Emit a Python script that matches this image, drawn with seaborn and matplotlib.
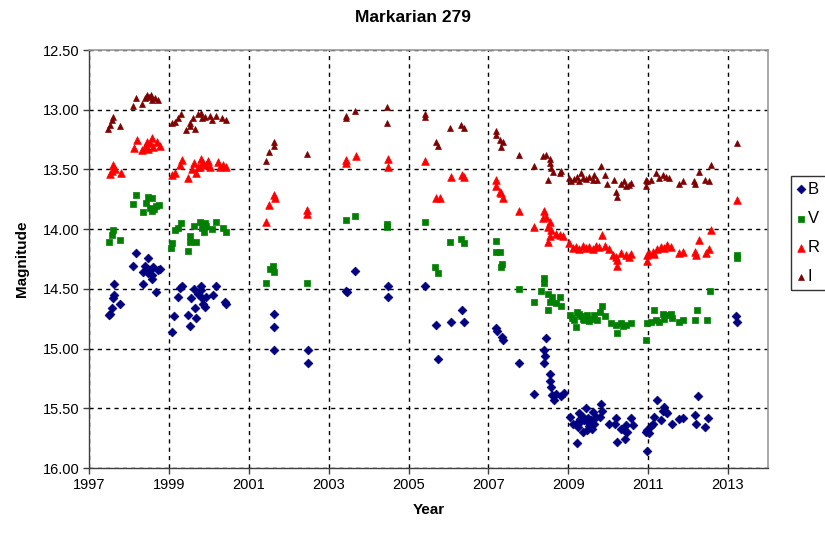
import matplotlib
matplotlib.use("Agg")
import matplotlib.pyplot as plt
import seaborn as sns
import pandas as pd
from matplotlib.ticker import FormatStrFormatter, MultipleLocator

# ---------------- data ----------------
b_year = [1997.50, 1997.53, 1997.57, 1997.61, 1997.63, 1997.63, 1997.78,
          1998.11, 1998.18, 1998.36, 1998.36, 1998.40, 1998.48, 1998.48, 1998.53, 1998.58, 1998.58, 1998.61, 1998.68, 1998.73, 1998.79,
          1999.07, 1999.13, 1999.22, 1999.28, 1999.32, 1999.48, 1999.53, 1999.55, 1999.63, 1999.65, 1999.69, 1999.73, 1999.80, 1999.80, 1999.82, 1999.86, 1999.90, 1999.94, 2000.11, 2000.19, 2000.40, 2000.44,
          2001.63, 2001.63, 2001.63, 2002.48, 2002.48, 2003.43, 2003.45, 2003.67, 2004.48, 2004.48, 2005.40, 2005.68, 2005.73, 2006.07, 2006.33, 2006.40,
          2007.19, 2007.21, 2007.33, 2007.36, 2007.76,
          2008.15, 2008.38, 2008.38, 2008.42, 2008.43, 2008.53, 2008.54, 2008.57, 2008.59, 2008.63, 2008.69, 2008.82, 2008.90,
          2009.04, 2009.11, 2009.19, 2009.21, 2009.28, 2009.32, 2009.36, 2009.40, 2009.44, 2009.44, 2009.48, 2009.53, 2009.57, 2009.57, 2009.61, 2009.65, 2009.69, 2009.79, 2009.82, 2009.85,
          2009.25, 2009.50, 2009.38, 2009.30, 2009.60,
          2010.01, 2010.18, 2010.19, 2010.23, 2010.32, 2010.40, 2010.43, 2010.44, 2010.48, 2010.57, 2010.61, 2010.94, 2010.96,
          2010.98, 2011.03, 2011.07, 2011.11, 2011.15, 2011.23, 2011.32, 2011.36, 2011.40, 2011.44, 2011.48, 2011.59, 2011.78, 2011.88, 2012.18, 2012.19, 2012.25, 2012.43, 2012.51, 2013.21, 2013.23]
b_mag = [14.72, 14.71, 14.66, 14.58, 14.46, 14.55, 14.63,
         14.31, 14.20, 14.36, 14.46, 14.31, 14.24, 14.37, 14.34, 14.38, 14.42, 14.32, 14.53, 14.34, 14.33,
         14.86, 14.73, 14.57, 14.49, 14.48, 14.72, 14.81, 14.58, 14.50, 14.66, 14.74, 14.54, 14.48, 14.51, 14.58, 14.63, 14.65, 14.57, 14.55, 14.48, 14.61, 14.63,
         14.71, 14.82, 15.01, 15.01, 15.12, 14.52, 14.53, 14.35, 14.48, 14.57, 14.48, 14.80, 15.09, 14.78, 14.68, 14.78,
         14.83, 14.85, 14.90, 14.93, 15.12,
         15.38, 15.01, 15.12, 15.06, 14.91, 15.27, 15.21, 15.32, 15.39, 15.43, 15.38, 15.40, 15.37,
         15.57, 15.63, 15.63, 15.79, 15.54, 15.61, 15.57, 15.60, 15.50, 15.60, 15.68, 15.65, 15.60, 15.62, 15.53, 15.63, 15.57, 15.57, 15.46, 15.52,
         15.66, 15.58, 15.70, 15.59, 15.67,
         15.63, 15.63, 15.58, 15.78, 15.67, 15.68, 15.76, 15.64, 15.70, 15.58, 15.64, 15.70, 15.86,
         15.68, 15.71, 15.65, 15.63, 15.57, 15.43, 15.60, 15.52, 15.49, 15.53, 15.54, 15.63, 15.59, 15.58, 15.56, 15.63, 15.40, 15.66, 15.58, 14.73, 14.78]

v_year = [1997.50, 1997.57, 1997.61, 1997.78,
          1998.11, 1998.18, 1998.36, 1998.42, 1998.47, 1998.53, 1998.57, 1998.58, 1998.62, 1998.67, 1998.75,
          1999.05, 1999.08, 1999.15, 1999.22, 1999.30, 1999.47, 1999.53, 1999.53, 1999.63, 1999.67, 1999.78, 1999.82, 1999.88, 1999.90, 1999.94, 2000.07, 2000.19, 2000.36, 2000.42,
          2001.44, 2001.53, 2001.61, 2001.63, 2002.46, 2003.43, 2003.65, 2004.47, 2004.47, 2005.40, 2005.67, 2005.73, 2006.05, 2006.32, 2006.40,
          2007.19, 2007.18, 2007.28, 2007.34, 2007.32, 2007.76,
          2008.13, 2008.32, 2008.40, 2008.40, 2008.48, 2008.48, 2008.53, 2008.60, 2008.68, 2008.78, 2008.82,
          2009.04, 2009.15, 2009.19, 2009.23, 2009.32, 2009.36, 2009.40, 2009.48, 2009.57, 2009.65, 2009.71, 2009.79, 2009.85, 2009.92, 2009.10, 2009.28, 2009.52,
          2010.07, 2010.19, 2010.22, 2010.32, 2010.38, 2010.44, 2010.57,
          2010.94, 2010.98, 2011.07, 2011.15, 2011.19, 2011.28, 2011.36, 2011.40, 2011.48, 2011.57, 2011.60, 2011.78, 2011.86, 2012.18, 2012.23, 2012.48, 2012.55, 2013.22, 2013.22]
v_mag = [14.11, 14.05, 14.01, 14.09,
         13.79, 13.71, 13.86, 13.78, 13.73, 13.82, 13.85, 13.74, 13.83, 13.81, 13.80,
         14.16, 14.12, 14.01, 13.99, 13.95, 14.18, 14.06, 14.11, 13.97, 14.11, 13.94, 13.99, 14.02, 13.95, 13.97, 14.00, 13.94, 13.99, 14.02,
         14.45, 14.33, 14.31, 14.36, 14.45, 13.92, 13.89, 13.96, 13.98, 13.94, 14.32, 14.37, 14.11, 14.08, 14.12,
         14.10, 14.19, 14.19, 14.29, 14.32, 14.50,
         14.61, 14.52, 14.41, 14.45, 14.54, 14.68, 14.61, 14.57, 14.62, 14.57, 14.64,
         14.72, 14.76, 14.82, 14.69, 14.73, 14.75, 14.76, 14.72, 14.75, 14.72, 14.76, 14.69, 14.64, 14.73, 14.74, 14.71, 14.77,
         14.79, 14.80, 14.87, 14.79, 14.81, 14.80, 14.79,
         14.93, 14.79, 14.78, 14.68, 14.76, 14.78, 14.71, 14.75, 14.72, 14.71, 14.74, 14.78, 14.76, 14.76, 14.68, 14.76, 14.52, 14.22, 14.24]

r_year = [1997.53, 1997.57, 1997.61, 1997.65, 1997.80,
          1998.13, 1998.19, 1998.32, 1998.40, 1998.44, 1998.48, 1998.53, 1998.57, 1998.61, 1998.69, 1998.78,
          1999.07, 1999.15, 1999.28, 1999.33, 1999.48, 1999.57, 1999.63, 1999.69, 1999.73, 1999.78, 1999.80, 1999.86, 1999.94, 1999.98, 2000.03, 2000.22, 2000.28, 2000.36, 2000.44,
          2001.44, 2001.51, 2001.63, 2001.65, 2002.46, 2002.46, 2003.43, 2003.43, 2003.68, 2004.48, 2004.48, 2005.40, 2005.68, 2005.78, 2006.07, 2006.33, 2006.40,
          2007.19, 2007.19, 2007.28, 2007.32, 2007.36, 2007.76,
          2008.15, 2008.36, 2008.40, 2008.44, 2008.48, 2008.48, 2008.53, 2008.53, 2008.57, 2008.69, 2008.78, 2008.86,
          2009.03, 2009.11, 2009.19, 2009.28, 2009.36, 2009.44, 2009.53, 2009.61, 2009.69, 2009.78, 2009.85, 2009.92,
          2010.03, 2010.11, 2010.19, 2010.23, 2010.23, 2010.32, 2010.44, 2010.53, 2010.57,
          2010.96, 2010.98, 2011.03, 2011.11, 2011.15, 2011.23, 2011.32, 2011.40, 2011.48, 2011.57, 2011.78, 2011.86, 2012.18, 2012.19, 2012.26, 2012.44, 2012.53, 2012.57, 2013.23]
r_mag = [13.54, 13.51, 13.46, 13.50, 13.53,
         13.32, 13.25, 13.34, 13.31, 13.27, 13.33, 13.28, 13.24, 13.31, 13.27, 13.30,
         13.55, 13.53, 13.46, 13.42, 13.57, 13.50, 13.45, 13.53, 13.48, 13.48, 13.41, 13.45, 13.46, 13.43, 13.48, 13.44, 13.48, 13.46, 13.48,
         13.94, 13.80, 13.71, 13.74, 13.84, 13.87, 13.42, 13.45, 13.39, 13.41, 13.48, 13.43, 13.74, 13.74, 13.56, 13.55, 13.56,
         13.59, 13.64, 13.69, 13.70, 13.74, 13.85,
         13.98, 13.91, 13.85, 13.90, 13.98, 14.11, 13.94, 14.06, 14.01, 14.04, 14.05, 14.06,
         14.12, 14.16, 14.15, 14.17, 14.14, 14.16, 14.15, 14.17, 14.14, 14.15, 14.05, 14.14,
         14.17, 14.22, 14.23, 14.26, 14.31, 14.20, 14.22, 14.23, 14.21,
         14.27, 14.22, 14.20, 14.19, 14.21, 14.17, 14.15, 14.16, 14.13, 14.15, 14.20, 14.19, 14.19, 14.22, 14.09, 14.20, 14.17, 14.01, 13.76]

i_year = [1997.48, 1997.53, 1997.58, 1997.61, 1997.78,
          1998.11, 1998.17, 1998.33, 1998.40, 1998.44, 1998.50, 1998.55, 1998.57, 1998.65, 1998.73,
          1999.07, 1999.15, 1999.23, 1999.30, 1999.44, 1999.53, 1999.53, 1999.61, 1999.65, 1999.73, 1999.80, 1999.83, 1999.90, 2000.03, 2000.08, 2000.19, 2000.32, 2000.42,
          2001.44, 2001.50, 2001.63, 2001.63, 2002.46, 2003.43, 2003.43, 2003.65, 2004.47, 2004.47, 2005.40, 2005.40, 2005.68, 2005.73, 2006.05, 2006.32, 2006.40,
          2007.18, 2007.19, 2007.28, 2007.32, 2007.36, 2007.76,
          2008.15, 2008.36, 2008.44, 2008.48, 2008.53, 2008.53, 2008.57, 2008.61, 2008.78, 2008.82,
          2009.03, 2009.07, 2009.15, 2009.23, 2009.28, 2009.32, 2009.36, 2009.44, 2009.53, 2009.61, 2009.65, 2009.71, 2009.82, 2009.92, 2009.96,
          2010.15, 2010.19, 2010.21, 2010.32, 2010.40, 2010.44, 2010.53, 2010.57, 2010.94,
          2010.94, 2010.98, 2011.07, 2011.19, 2011.28, 2011.36, 2011.44, 2011.53, 2011.78, 2011.86, 2012.15, 2012.18, 2012.26, 2012.43, 2012.53, 2012.57, 2013.22]
i_mag = [13.16, 13.13, 13.09, 13.06, 13.14,
         12.97, 12.90, 12.95, 12.90, 12.88, 12.89, 12.88, 12.92, 12.90, 12.92,
         13.11, 13.10, 13.07, 13.04, 13.17, 13.14, 13.11, 13.07, 13.16, 13.04, 13.03, 13.07, 13.06, 13.05, 13.09, 13.05, 13.07, 13.09,
         13.43, 13.35, 13.27, 13.30, 13.37, 13.05, 13.07, 13.01, 12.98, 13.11, 13.04, 13.06, 13.27, 13.30, 13.15, 13.13, 13.15,
         13.18, 13.21, 13.25, 13.31, 13.27, 13.38,
         13.47, 13.39, 13.38, 13.59, 13.41, 13.45, 13.49, 13.52, 13.53, 13.51,
         13.57, 13.60, 13.58, 13.56, 13.60, 13.53, 13.57, 13.58, 13.56, 13.59, 13.55, 13.59, 13.47, 13.55, 13.62,
         13.59, 13.69, 13.73, 13.62, 13.60, 13.64, 13.63, 13.61, 13.59,
         13.64, 13.60, 13.59, 13.53, 13.57, 13.55, 13.56, 13.57, 13.62, 13.60, 13.60, 13.62, 13.52, 13.59, 13.60, 13.46, 13.28]

series_names = ["B", "V", "R", "I"]
x_ticks = [1997, 1999, 2001, 2003, 2005, 2007, 2009, 2011, 2013]

# ---------------- plotting ----------------
sns.set_theme(style="white")
plt.rcParams['font.family'] = ['Liberation Sans', 'DejaVu Sans']

fig = plt.figure(figsize=(8.25, 5.33), dpi=100)
ax = fig.add_axes([89/825, 1-468/533, (768-89)/825, (468-50)/533])

styles = {
    "B": dict(marker="D", color="#000080", s=20),
    "V": dict(marker="s", color="#008000", s=22),
    "R": dict(marker="^", color="#FF0000", s=30),
    "I": dict(marker="^", color="#800000", s=18),
}
data = {"B": (b_year, b_mag), "V": (v_year, v_mag), "R": (r_year, r_mag), "I": (i_year, i_mag)}

for name in series_names:
    yr, mg = data[name]
    df = pd.DataFrame({"Year": yr, "Magnitude": mg})
    st = styles[name]
    sns.scatterplot(data=df, x="Year", y="Magnitude", ax=ax, marker=st["marker"],
                    color=st["color"], s=st["s"], edgecolor=st["color"], linewidth=0.5,
                    label=name, zorder=3)

ax.set_xlim(1997, 2014)
ax.set_ylim(16.0, 12.5)
ax.set_xticks(x_ticks)
ax.yaxis.set_major_locator(MultipleLocator(0.5))
ax.yaxis.set_major_formatter(FormatStrFormatter('%.2f'))

ax.grid(True, color="black", linestyle=(0, (3, 3)), linewidth=1.0, zorder=1)
for sp in ["top", "right"]:
    ax.spines[sp].set_color("#9a9a9a")
    ax.spines[sp].set_linewidth(1.2)
for sp in ["left", "bottom"]:
    ax.spines[sp].set_color("#404040")
    ax.spines[sp].set_linewidth(1.0)

ax.tick_params(axis="both", direction="out", length=4, width=1, color="#404040",
               labelsize=10.5, labelcolor="black", bottom=True, left=True, pad=3)
ax.set_xlabel("Year", fontsize=11, fontweight="bold", labelpad=8, color="black")
ax.set_ylabel("Magnitude", fontsize=11, fontweight="bold", labelpad=10, color="black")

fig.text(0.5, 1-18/533, "Markarian 279", ha="center", va="center",
         fontsize=12.5, fontweight="bold", color="black")

handles, labels = ax.get_legend_handles_labels()
ax.get_legend().remove()
leg = fig.legend(handles, labels, loc="upper left", bbox_to_anchor=(791/825, 1-176/533),
                 borderaxespad=0, frameon=True, fancybox=False, edgecolor="black",
                 fontsize=12, handletextpad=0.15, borderpad=0.35, labelspacing=0.85,
                 handlelength=0.5, markerscale=1.0)
leg.get_frame().set_linewidth(1.0)
for t in leg.get_texts():
    t.set_color("black")

fig.savefig("out.png", dpi=100)
